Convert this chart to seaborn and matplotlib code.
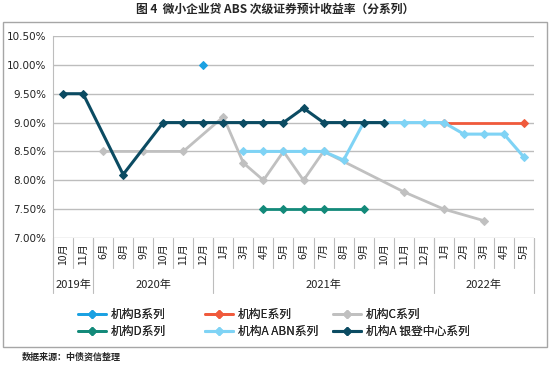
import numpy as np
import pandas as pd
import matplotlib
matplotlib.use('Agg')
import matplotlib.pyplot as plt
import seaborn as sns
from matplotlib.lines import Line2D
from matplotlib.patches import Rectangle

sns.set_style('white')
plt.rcParams['font.family'] = ['Noto Sans CJK SC', 'DejaVu Sans']

# ============================================================
# DATA (yield in %)
# ============================================================
months = ['10月', '11月',
          '6月', '8月', '9月', '10月', '11月', '12月',
          '1月', '3月', '4月', '5月', '6月', '7月', '8月', '9月', '10月', '11月', '12月',
          '1月', '2月', '3月', '4月', '5月']
years = ['2019年', '2020年', '2021年', '2022年']
year_sizes = [2, 6, 11, 5]

N = None
inst_b = [N, N, N, N, N, N, N, 10.0, N, N, N, N, N, N, N, N, N, N, N, N, N, N, N, N]
inst_e = [N, N, N, N, N, N, N, N, N, N, N, N, N, N, N, N, N, N, N, 9.0, N, N, N, 9.0]
inst_c = [N, N, 8.5, N, 8.5, N, 8.5, N, 9.1, 8.3, 8.0, 8.5, 8.0, 8.5, N, N, N, 7.8, N, 7.5, N, 7.3, N, N]
inst_d = [N, N, N, N, N, N, N, N, N, N, 7.5, 7.5, 7.5, 7.5, N, 7.5, N, N, N, N, N, N, N, N]
inst_a_abn = [N, N, N, N, N, N, N, N, N, 8.5, 8.5, 8.5, 8.5, 8.5, 8.35, 9.0, 9.0, 9.0, 9.0, 9.0, 8.8, 8.8, 8.8, 8.4]
inst_a_yd = [9.5, 9.5, N, 8.1, N, 9.0, 9.0, 9.0, 9.0, 9.0, 9.0, 9.0, 9.25, 9.0, 9.0, 9.0, 9.0, N, N, N, N, N, N, N]

series = [
    ('机构B系列', inst_b, '#1ba1e2', 2.0),
    ('机构E系列', inst_e, '#f05a3c', 2.0),
    ('机构C系列', inst_c, '#c0c0c0', 2.0),
    ('机构D系列', inst_d, '#138a7a', 2.0),
    ('机构A ABN系列', inst_a_abn, '#7fd3f5', 2.2),
    ('机构A 银登中心系列', inst_a_yd, '#0b4b62', 2.2),
]

# ============================================================
# PLOT
# ============================================================
fig = plt.figure(figsize=(5.5, 3.67), dpi=100)
ax = fig.add_axes([53 / 550, 1 - 238 / 367, 481 / 550, 202 / 367])

for name, vals, color, lw in series:
    df = pd.DataFrame({'x': np.arange(len(vals)), 'y': vals}).dropna()
    sns.lineplot(data=df, x='x', y='y', ax=ax, color=color, linewidth=lw,
                 marker='D', markersize=4.5, markeredgecolor=color,
                 estimator=None, sort=False, legend=False)

ax.set_xlim(-0.5, len(months) - 0.5)
ax.set_ylim(7.0, 10.5)
yt = np.arange(7.0, 10.51, 0.5)
ax.set_yticks(yt)
ax.set_yticklabels([f'{v:.2f}%' for v in yt], fontsize=7.5, color='#222222',
                   family=['DejaVu Sans'])
ax.tick_params(axis='y', length=3, color='#a0a0a0', pad=2)
ax.set_xticks([])
ax.set_xlabel('')
ax.set_ylabel('')
for v in yt:
    ax.axhline(v, color='#bdbdbd', lw=1, zorder=0)
for s in ['top', 'right', 'bottom']:
    ax.spines[s].set_visible(False)
ax.spines['left'].set_color('#bdbdbd')

# two-level category axis
tr = ax.get_xaxis_transform()
for i, m in enumerate(months):
    ax.text(i, -0.025, m, transform=tr, rotation=90, ha='center', va='top',
            fontsize=7.5, color='#222222')
for i in range(len(months) + 1):
    ax.plot([i - 0.5, i - 0.5], [0, -0.1485], transform=tr, color='#bdbdbd',
            lw=0.8, clip_on=False)
start = 0
for yname, size in zip(years, year_sizes):
    ax.plot([start - 0.5, start - 0.5], [0, -0.272], transform=tr,
            color='#bdbdbd', lw=0.8, clip_on=False)
    ax.text(start + (size - 1) / 2, -0.233, yname, transform=tr,
            ha='center', va='center', fontsize=8, color='#222222')
    start += size
ax.plot([start - 0.5, start - 0.5], [0, -0.272], transform=tr,
        color='#bdbdbd', lw=0.8, clip_on=False)

# legend: three columns placed by hand
handles = [Line2D([], [], color=c, lw=lw, marker='D', markersize=4.5) for _, _, c, lw in series]
labels = [s[0] for s in series]
col_x = [72, 199, 327]
for k in range(3):
    idx = [k, k + 3]
    leg = fig.legend([handles[j] for j in idx], [labels[j] for j in idx],
                     loc='upper left', bbox_to_anchor=(col_x[k] / 550, 1 - 302 / 367),
                     frameon=False, fontsize=8.5, handlelength=2.4,
                     handletextpad=0.4, labelspacing=0.35, borderpad=0)
    fig.add_artist(leg)

# outer frame
fig.patches.append(Rectangle((3 / 550, 1 - 347 / 367), 544 / 550, 325 / 367,
                             transform=fig.transFigure, fill=False,
                             edgecolor='#a6a6a6', lw=1))

fig.text(0.5, 1 - 9 / 367, '图 4  微小企业贷 ABS 次级证券预计收益率（分系列）',
         ha='center', va='center', fontsize=8.5, fontweight='bold')
fig.text(22 / 550, 1 - 357 / 367, '数据来源：中债资信整理',
         ha='left', va='center', fontsize=6.5, fontweight='bold')

fig.savefig('out.png', dpi=100)
